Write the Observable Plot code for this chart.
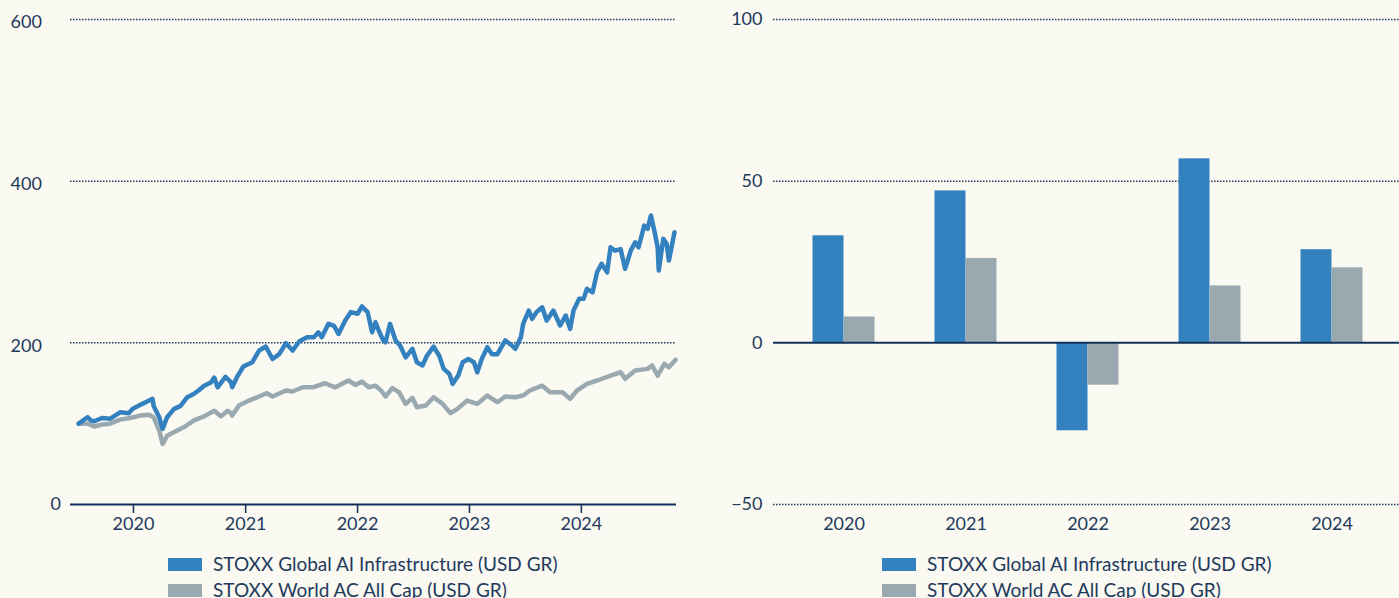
<!DOCTYPE html>
<html>
<head>
<meta charset="utf-8">
<script src="https://cdn.jsdelivr.net/npm/d3@7"></script>
<script src="https://cdn.jsdelivr.net/npm/@observablehq/plot@0.6"></script>
<style>
  html, body { margin: 0; padding: 0; background: #faf9f2; overflow: hidden; width: 1399px; height: 598px; }
  body { font-family: Lato, "Noto Sans", sans-serif; color: #22395c; }
  .panel { position: absolute; top: 0; }
  .legend { padding-top: 11px; font-size: 19px; line-height: 26px; }
  .legend .row { display: flex; align-items: center; white-space: nowrap; }
  .legend .sw { display: inline-block; width: 34px; height: 13px; margin-right: 11px; }
</style>
</head>
<body>
<div class="panel" id="left" style="left:0px;width:700px;"></div>
<div class="panel" id="right" style="left:700px;width:702px;"></div>
<script>
// ---------- Series labels & colours ----------
const seriesNames = ["STOXX Global AI Infrastructure (USD GR)", "STOXX World AC All Cap (USD GR)"];
const seriesColors = ["#3481c0", "#9aa9af"];

// ---------- Left chart: indexed performance (decimal years) ----------
const aiYears = [2019.51,2019.59,2019.62,2019.65,2019.72,2019.79,2019.88,2019.96,2019.99,2020.08,2020.14,2020.17,2020.18,2020.23,2020.26,2020.30,2020.36,2020.42,2020.48,2020.54,2020.58,2020.63,2020.69,2020.72,2020.75,2020.82,2020.87,2020.88,2020.93,2020.98,2021.06,2021.12,2021.18,2021.24,2021.30,2021.36,2021.42,2021.48,2021.55,2021.61,2021.65,2021.68,2021.74,2021.79,2021.83,2021.89,2021.94,2022.00,2022.04,2022.09,2022.13,2022.16,2022.19,2022.23,2022.25,2022.29,2022.34,2022.38,2022.43,2022.49,2022.53,2022.58,2022.62,2022.68,2022.73,2022.77,2022.82,2022.85,2022.90,2022.94,2022.99,2023.04,2023.07,2023.11,2023.16,2023.20,2023.25,2023.32,2023.38,2023.41,2023.46,2023.48,2023.53,2023.56,2023.60,2023.65,2023.69,2023.75,2023.81,2023.86,2023.90,2023.93,2023.98,2024.02,2024.05,2024.10,2024.14,2024.18,2024.23,2024.26,2024.30,2024.35,2024.39,2024.44,2024.48,2024.51,2024.56,2024.59,2024.62,2024.65,2024.68,2024.69,2024.73,2024.76,2024.78,2024.81,2024.83];
const aiValues = [100,108,104,103,107,106,114,113,118,124.5,128.6,130.7,122,108,93.6,108,118,122,132.7,137,141,147,151,157,145,158,151,145,159.5,170.7,176,190.5,195.4,180,186,199.5,190.5,202,207,207,213,207,223.5,221,211,227.6,238,236,245,238,213,225.5,215,203,200.7,223.5,203,196.7,182,192.6,176,172,184,195.4,184,167.8,161.6,149.3,159.5,176,180,176,163.6,180,194.6,186,186,203,196.7,192.6,207,223.5,240,229.7,238,244,227.6,240,221.4,233.8,217.3,240,254.4,254.4,266.8,262.6,287.3,297.7,287.3,318.2,314,316,291.5,314,324.4,318.2,345,341,357.5,339,318.2,289.4,328.6,322.5,301.8,322.5,336.8];

const wdYears = [2019.51,2019.59,2019.65,2019.72,2019.79,2019.88,2019.97,2020.06,2020.14,2020.18,2020.23,2020.26,2020.30,2020.39,2020.46,2020.54,2020.63,2020.72,2020.78,2020.84,2020.87,2020.88,2020.94,2021.03,2021.12,2021.19,2021.24,2021.36,2021.42,2021.51,2021.60,2021.71,2021.80,2021.92,2021.98,2022.04,2022.10,2022.16,2022.21,2022.25,2022.31,2022.37,2022.43,2022.49,2022.53,2022.61,2022.68,2022.76,2022.83,2022.89,2022.98,2023.07,2023.16,2023.25,2023.32,2023.41,2023.48,2023.54,2023.65,2023.72,2023.83,2023.90,2023.96,2024.05,2024.14,2024.26,2024.35,2024.39,2024.48,2024.59,2024.63,2024.68,2024.74,2024.78,2024.84];
const wdValues = [100,100,96.5,99,100,105,107,110,111,108,91.5,75,85,91.5,96.5,104,109,116,109,116,113,110,122.5,128.6,133.6,137.7,133.6,141,139.8,145,145,150,145,153.4,148,152,145,147,141,133.6,144,139,124.5,132,120.3,122.5,132.7,124.5,113,118,128.6,124.5,134.8,126.5,133.6,132.7,134.8,141,147,139,139,130.7,141,149.3,153.4,159.5,163.6,155.5,165.7,167.8,172,159.5,174,169.8,179];

const lineYTicks = [200, 400, 600];
const lineXTicks = [2020, 2021, 2022, 2023, 2024];
const lineXDomain = [2019.4375, 2024.848];

// ---------- Right chart: annual returns (%) ----------
const barYears = ["2020", "2021", "2022", "2023", "2024"];
const barAI = [33.1, 47.0, -27.2, 56.9, 28.8];
const barWorld = [8.0, 26.1, -13.1, 17.6, 23.2];
const barYTicks = [-50, 0, 50, 100];
const barGridTicks = [-50, 50, 100];

// ---------- helpers ----------
function decYear(y) {
  const yr = Math.floor(y);
  const a = Date.UTC(yr, 0, 1), b = Date.UTC(yr + 1, 0, 1);
  return new Date(a + (y - yr) * (b - a));
}
const ink = "#22395c";
const axisInk = "#13305a";
const gridInk = "#1f3a60";
const fs = 18;
const fontStyle = { background: "transparent", fontFamily: "Lato, 'Noto Sans', sans-serif", fontSize: fs + "px", color: ink, overflow: "visible" };

const aiData = aiYears.map((y, i) => ({ date: decYear(y), value: aiValues[i] }));
const wdData = wdYears.map((y, i) => ({ date: decYear(y), value: wdValues[i] }));

const leftPlot = Plot.plot({
  width: 700, height: 540,
  marginLeft: 70, marginRight: 24, marginTop: 19, marginBottom: 36,
  style: fontStyle,
  x: { type: "utc", domain: lineXDomain.map(decYear) },
  y: { domain: [0, 600] },
  marks: [
    Plot.ruleY(lineYTicks, { stroke: gridInk, strokeWidth: 1.5, strokeDasharray: "1.5,1.5" }),
    Plot.text(lineYTicks, { y: d => d, text: d => String(d), frameAnchor: "left", textAnchor: "start", dx: -60, dy: 3, fill: ink, fontSize: fs }),
    Plot.text([0], { y: d => d, text: d => String(d), frameAnchor: "left", textAnchor: "start", dx: -20, fill: ink, fontSize: fs }),
    Plot.line(wdData, { x: "date", y: "value", stroke: seriesColors[1], strokeWidth: 4.5, strokeLinejoin: "round" }),
    Plot.line(aiData, { x: "date", y: "value", stroke: seriesColors[0], strokeWidth: 4.5, strokeLinejoin: "round" }),
    Plot.ruleY([0], { stroke: axisInk, strokeWidth: 2 }),
    Plot.axisX(lineXTicks.map(decYear), { tickSize: 9, tickPadding: 4, tickFormat: d3.utcFormat("%Y"), stroke: axisInk, strokeWidth: 1.5, fill: ink, fontSize: fs, label: null }),
    Plot.axisY({ ticks: [], label: null })
  ]
});

const barAIData = barYears.map((y, i) => ({ year: y, value: barAI[i] }));
const barWDData = barYears.map((y, i) => ({ year: y, value: barWorld[i] }));

const rightPlot = Plot.plot({
  width: 702, height: 540,
  marginLeft: 73, marginRight: 0, marginTop: 19, marginBottom: 36,
  style: fontStyle,
  x: { domain: barYears, paddingInner: 0.746, paddingOuter: 0.4445 },
  y: { domain: [-50, 100] },
  marks: [
    Plot.ruleY(barGridTicks, { stroke: gridInk, strokeWidth: 1.5, strokeDasharray: "1.5,1.5" }),
    Plot.barY(barAIData, { x: "year", y: "value", fill: seriesColors[0], dx: -15.5 }),
    Plot.barY(barWDData, { x: "year", y: "value", fill: seriesColors[1], dx: 15.5 }),
    Plot.ruleY([0], { stroke: axisInk, strokeWidth: 2 }),
    Plot.axisY(barYTicks, { tickSize: 0, tickPadding: 11, fill: ink, fontSize: fs, label: null }),
    Plot.axisX({ tickSize: 0, tickPadding: 13, fill: ink, fontSize: fs, label: null })
  ]
});

function legend(marginLeft) {
  const div = document.createElement("div");
  div.className = "legend";
  div.style.marginLeft = marginLeft + "px";
  seriesNames.forEach((name, i) => {
    const row = document.createElement("div");
    row.className = "row";
    const sw = document.createElement("span");
    sw.className = "sw";
    sw.style.background = seriesColors[i];
    const tx = document.createElement("span");
    tx.textContent = name;
    row.appendChild(sw); row.appendChild(tx);
    div.appendChild(row);
  });
  return div;
}

const L = document.getElementById("left");
L.appendChild(leftPlot); L.appendChild(legend(168));
const R = document.getElementById("right");
R.appendChild(rightPlot); R.appendChild(legend(182));
</script>
</body>
</html>
